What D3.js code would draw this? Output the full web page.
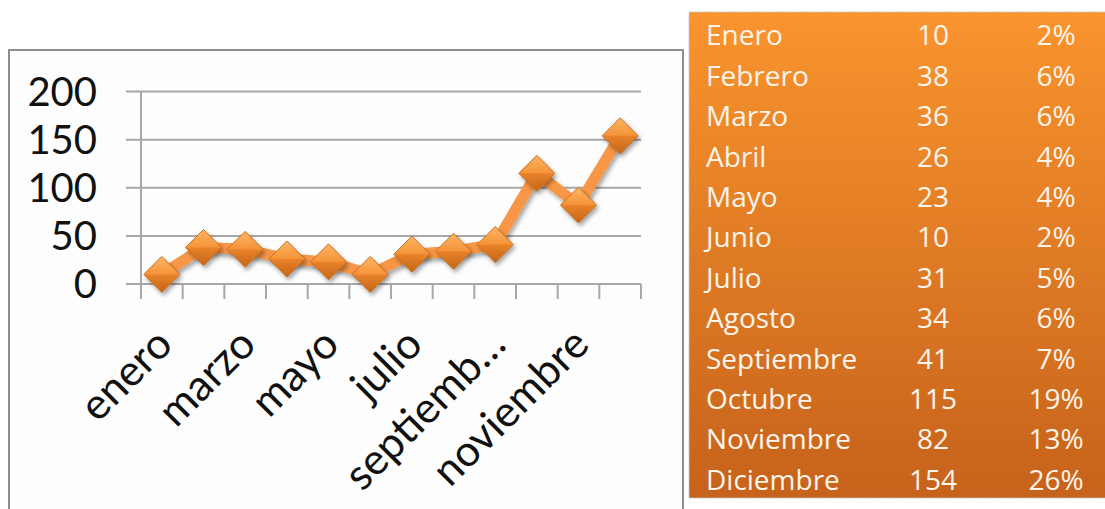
<!doctype html>
<html lang="es">
<head>
<meta charset="UTF-8">
<title>ventas por mes</title>
<script src="https://cdn.jsdelivr.net/npm/d3@7"></script>
<style>
  body { margin: 0; background: #fff; }
  svg { display: block; }
</style>
</head>
<body>
<svg width="1105" height="509"></svg>
<script>
    // datos
    let months = ["Enero", "Febrero", "Marzo", "Abril", "Mayo", "Junio", "Julio", "Agosto", "Septiembre", "Octubre", "Noviembre", "Diciembre"];
    let values = [10, 38, 36, 26, 23, 10, 31, 34, 41, 115, 82, 154];
    let percents = [2, 6, 6, 4, 4, 2, 5, 6, 7, 19, 13, 26];
    let yTicks = [0, 50, 100, 150, 200];

    let svg = d3.select("svg");
    let defs = svg.append("defs");

    // gradients + shadow
    let tg = defs.append("linearGradient").attr("id", "tableGrad").attr("x1", 0).attr("y1", 0).attr("x2", 0).attr("y2", 1);
    tg.append("stop").attr("offset", "0%").attr("stop-color", "#f9942e");
    tg.append("stop").attr("offset", "100%").attr("stop-color", "#c6621b");

    let mg = defs.append("linearGradient").attr("id", "markGrad").attr("x1", 0).attr("y1", 0).attr("x2", 0).attr("y2", 1);
    mg.append("stop").attr("offset", "0%").attr("stop-color", "#fdb566");
    mg.append("stop").attr("offset", "48%").attr("stop-color", "#f59539");
    mg.append("stop").attr("offset", "52%").attr("stop-color", "#e8812a");
    mg.append("stop").attr("offset", "100%").attr("stop-color", "#c46516");

    let sh = defs.append("filter").attr("id", "shadow").attr("x", "-50%").attr("y", "-50%").attr("width", "200%").attr("height", "200%");
    sh.append("feDropShadow").attr("dx", 2).attr("dy", 3).attr("stdDeviation", 2).attr("flood-color", "#000").attr("flood-opacity", 0.35);

    // marco del grafico
    svg.append("rect")
        .attr("x", 9).attr("y", 50).attr("width", 674).attr("height", 480)
        .attr("fill", "#fdfdfd").attr("stroke", "#8e8e8e").attr("stroke-width", 2);

    let cats = months.map(m => m.toLowerCase());
    let x = d3.scaleBand().domain(cats).range([141, 641]);
    let y = d3.scaleLinear().domain([0, 200]).range([284, 91.5]);
    let cx = d => x(d) + x.bandwidth() / 2;

    // gridlines
    svg.append("g").selectAll("line").data(yTicks).enter().append("line")
        .attr("x1", 126).attr("x2", 641)
        .attr("y1", d => y(d)).attr("y2", d => y(d))
        .attr("stroke", "#a8a8a8").attr("stroke-width", 2);

    // eje y
    svg.append("line").attr("x1", 141).attr("x2", 141).attr("y1", y(200)).attr("y2", y(0))
        .attr("stroke", "#a8a8a8").attr("stroke-width", 2);

    svg.append("g").selectAll("text").data(yTicks).enter().append("text")
        .attr("x", 97).attr("y", d => y(d)).attr("dy", "0.36em")
        .attr("text-anchor", "end")
        .style("font-family", "Lato, sans-serif").style("font-size", "40px").attr("fill", "#111")
        .text(d => d);

    // ticks eje x (entre categorias)
    let bounds = cats.map(c => x(c)).concat([x.range()[1]]);
    svg.append("g").selectAll("line").data(bounds).enter().append("line")
        .attr("x1", d => d).attr("x2", d => d)
        .attr("y1", y(0)).attr("y2", y(0) + 15)
        .attr("stroke", "#a8a8a8").attr("stroke-width", 2);

    // etiquetas x, una si y una no
    let fmt = s => s.length > 9 ? s.slice(0, 8) + "…" : s;
    svg.append("g").selectAll("text").data(cats.filter((c, i) => i % 2 === 0)).enter().append("text")
        .attr("transform", d => "translate(" + (cx(d) - 10) + "," + 324 + ") rotate(-45)")
        .attr("dy", "0.75em")
        .attr("text-anchor", "end")
        .style("font-family", "Lato, sans-serif").style("font-size", "43px").attr("fill", "#111")
        .text(fmt);

    // linea
    let line = d3.line().x((d, i) => cx(cats[i])).y(d => y(d));
    svg.append("path").datum(values)
        .attr("d", line).attr("fill", "none")
        .attr("stroke", "#f79646").attr("stroke-width", 11).attr("stroke-linejoin", "round")
        .attr("filter", "url(#shadow)");

    // marcadores
    let s = 18;
    svg.append("g").selectAll("path").data(values).enter().append("path")
        .attr("transform", (d, i) => "translate(" + cx(cats[i]) + "," + y(d) + ")")
        .attr("d", "M0," + (-s) + "L" + s + ",0L0," + s + "L" + (-s) + ",0Z")
        .attr("fill", "url(#markGrad)").attr("stroke", "#c8701f").attr("stroke-width", 1)
        .attr("filter", "url(#shadow)");

    // tabla
    let rows = d3.scaleBand().domain(months).range([15, 500]);
    svg.append("rect")
        .attr("x", 689).attr("y", 12).attr("width", 420).attr("height", 486)
        .attr("fill", "url(#tableGrad)")
        .attr("stroke", "#c8c8c8").attr("stroke-width", 1.5).attr("stroke-dasharray", "1.5,1.5");

    let tbl = svg.append("g")
        .style("font-family", "'Open Sans', sans-serif").style("font-size", "28px").attr("fill", "#fdf4ea");
    let ry = m => rows(m) + rows.bandwidth() / 2;
    tbl.selectAll(".c1").data(months).enter().append("text")
        .attr("x", 706).attr("y", d => ry(d)).attr("dy", "0.36em").text(d => d);
    tbl.selectAll(".c2").data(values).enter().append("text")
        .attr("x", 933).attr("y", (d, i) => ry(months[i])).attr("dy", "0.36em")
        .attr("text-anchor", "middle").text(d => d);
    tbl.selectAll(".c3").data(percents).enter().append("text")
        .attr("x", 1056).attr("y", (d, i) => ry(months[i])).attr("dy", "0.36em")
        .attr("text-anchor", "middle").text(d => d + "%");
</script>
</body>
</html>
